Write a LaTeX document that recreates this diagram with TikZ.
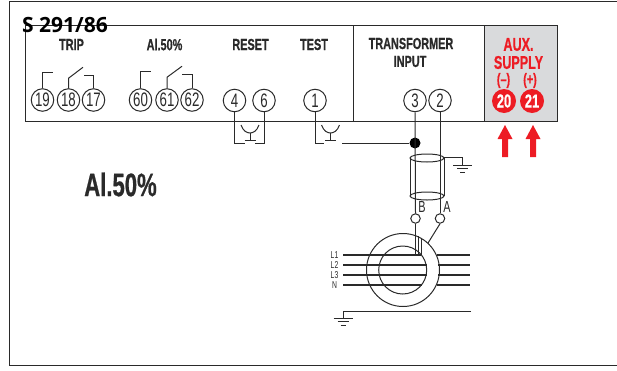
\documentclass[tikz,border=0pt]{standalone}
\usepackage{fontspec}
\setmainfont[FakeStretch=0.68,BoldFeatures={FakeBold=0.6}]{Liberation Sans}
\newfontfamily\plainfont{Open Sans}
\definecolor{wire}{HTML}{2A2A2A}
\definecolor{redmark}{HTML}{ED1C24}
\definecolor{panelgray}{HTML}{D9DADC}
\tikzset{
  ln/.style={draw=wire,line width=1pt},
  terminal/.style={circle,draw=wire,line width=1pt,minimum size=22.5pt,inner sep=0pt,font=\fontsize{19.5}{19.5}\selectfont,text=wire},
  redterm/.style={circle,fill=redmark,minimum size=24pt,inner sep=0pt,font=\fontsize{19}{19}\selectfont\bfseries,text=white},
  head/.style={font=\fontsize{16}{16}\selectfont\bfseries,text=wire,inner sep=0pt},
  redhead/.style={font=\fontsize{18.5}{14}\selectfont\bfseries,text=redmark,inner sep=0pt},
  redsign/.style={font=\fontsize{16}{12}\selectfont\bfseries,text=redmark,inner sep=0pt},
  small/.style={font=\fontsize{16}{16}\selectfont,text=wire,inner sep=0pt},
  tiny/.style={font=\fontsize{10}{10}\selectfont,text=wire,inner sep=0pt},
  phase/.style={draw=wire,line width=2.2pt},
  tap/.style={circle,draw=wire,line width=1pt,minimum size=9.5pt,inner sep=0pt}
}
\newcommand{\groundsym}[2]{%
  \draw[ln] (#1-9.5,#2) -- (#1+9.5,#2);
  \draw[ln] (#1-5.5,#2+3.5) -- (#1+5.5,#2+3.5);
  \draw[ln] (#1-2.5,#2+7) -- (#1+2.5,#2+7);}
\newcommand{\antenna}[2]{%
  \draw[ln] (#1-9,#2) .. controls (#1-7,#2+6) and (#1-3,#2+8) .. (#1,#2+8) .. controls (#1+3,#2+8) and (#1+7,#2+6) .. (#1+9,#2);
  \draw[ln] (#1,#2+8) -- (#1,#2+15);
  \draw[ln] (#1-5.5,#2+15) -- (#1+5.5,#2+15);}
\newcommand{\redarr}[1]{%
  \fill[redmark] (#1,125) -- (#1+7.5,139) -- (#1+3,139) -- (#1+3,157) -- (#1-3,157) -- (#1-3,139) -- (#1-7.5,139) -- cycle;}
\begin{document}
\begin{tikzpicture}[x=1pt,y=-1pt]
\useasboundingbox (0,0) rectangle (617,370);
% outer frame
\draw[ln] (617,1) -- (9,1) -- (9,365) -- (617,365);
% panel
\fill[panelgray] (484,25) rectangle (557,121);
\draw[ln] (25,25) rectangle (557,121);
\draw[ln] (353.5,25) -- (353.5,121);
\draw[ln] (484,25) -- (484,121);
% title and headings
\node[anchor=west,inner sep=0pt,text=black,font=\plainfont\fontsize{21}{21}\selectfont\bfseries] (title) at (22,25) {S 291/86};
\node[head] (trip) at (71.5,44.5) {TRIP};
\node[head] (al) at (164.5,44.5) {Al.50\%};
\node[head] (reset) at (250.5,44.5) {RESET};
\node[head] (test) at (314,44.5) {TEST};
\node[head] (tr) at (411,43.5) {TRANSFORMER};
\node[head] (inp) at (410,61.5) {INPUT};
\node[redhead] (aux) at (518.5,44.5) {AUX.};
\node[redhead] (sup) at (518.5,62.5) {SUPPLY};
\node[redsign] (neg) at (503.5,80.5) {(--)};
\node[redsign] (pos) at (530,80.5) {(+)};
\node[font=\fontsize{32.5}{32.5}\selectfont\bfseries,text=wire,inner sep=0pt] (big) at (120.5,184.5) {Al.50\%};
% terminals
\node[terminal] (t19) at (42.5,100) {19};
\node[terminal] (t18) at (68.5,100) {18};
\node[terminal] (t17) at (93.5,100) {17};
\node[terminal] (t60) at (140.5,100) {60};
\node[terminal] (t61) at (167,100) {61};
\node[terminal] (t62) at (192,100) {62};
\node[terminal] (t4) at (234.5,100.5) {4};
\node[terminal] (t6) at (264,100.5) {6};
\node[terminal] (t1) at (315,100.5) {1};
\node[terminal] (t3) at (415,100.5) {3};
\node[terminal] (t2) at (440,100.5) {2};
\node[redterm] (t20) at (504,101) {20};
\node[redterm] (t21) at (532,101) {21};
% contacts
\draw[ln] (t19.north) -- ++(0,-16) -- ++(10,0);
\draw[ln] (t18.north) -- ++(0,-10) -- ++(14.5,-11);
\draw[ln] (t17.north) -- ++(0,-13) -- ++(-9.5,0);
\draw[ln] (t60.north) -- ++(0,-17) -- ++(10,0);
\draw[ln] (t61.north) -- ++(0,-11) -- ++(15,-11);
\draw[ln] (t62.north) -- ++(0,-14) -- ++(-10,0);
% reset / test links
\draw[ln] (t4.south) -- ++(0,31) -- ++(10,0);
\draw[ln] (t6.south) -- ++(0,31) -- ++(-9,0);
\antenna{250}{125}
\draw[ln] (t1.south) -- ++(0,31) -- ++(9,0);
\antenna{330.5}{125}
\coordinate (shieldend) at (342,143);
\node[circle,fill=black,minimum size=11pt,inner sep=0pt] (dot) at (415,143) {};
\draw[ln] (shieldend) -- (dot);
% input wires and tap circles
\node[tap] (tb) at (415.5,218.5) {};
\node[tap] (ta) at (440,218.5) {};
\draw[ln] (t3.south) -- (tb.north);
\draw[ln] (t2.south) -- (ta.north);
\node[small] (lb) at (422,207) {B};
\node[small] (la) at (447,207) {A};
% shield cylinder
\draw[ln] (410,158) -- (410,196);
\draw[ln] (444,158) -- (444,196);
\draw[ln] (427,158) ellipse [x radius=17,y radius=4];
\draw[ln] (427,196) ellipse [x radius=17,y radius=4];
\draw[ln] (444,157) -- (462,157) -- (462,165);
\groundsym{462.5}{165}
% toroid
\foreach \y/\a/\b in {255/421/437, 265/427/438, 275/427/438, 285/422/437}{
  \draw[phase] (343,\y) -- (\a,\y);
  \draw[phase] (\b,\y) -- (470,\y);
}
\draw[ln] (403,270) circle [radius=36.5];
\draw[ln] (402.7,270) circle [radius=24];
\draw[ln] (tb.south) -- (415.5,254);
\draw[ln] (418.7,236) -- (418.7,254);
\draw[ln] (421.2,238) -- (421.2,255);
\draw[ln] (ta.south) -- (428,243);
% line labels
\node[tiny] (l1) at (334.5,255) {L1};
\node[tiny] (l2) at (334.5,265) {L2};
\node[tiny] (l3) at (334.5,275) {L3};
\node[tiny] (ln) at (334.5,285) {N};
% earth
\draw[ln] (471,311.5) -- (343,311.5) -- (343,318);
\groundsym{343}{318}
% red arrows
\redarr{505}
\redarr{533}
\end{tikzpicture}
\end{document}
